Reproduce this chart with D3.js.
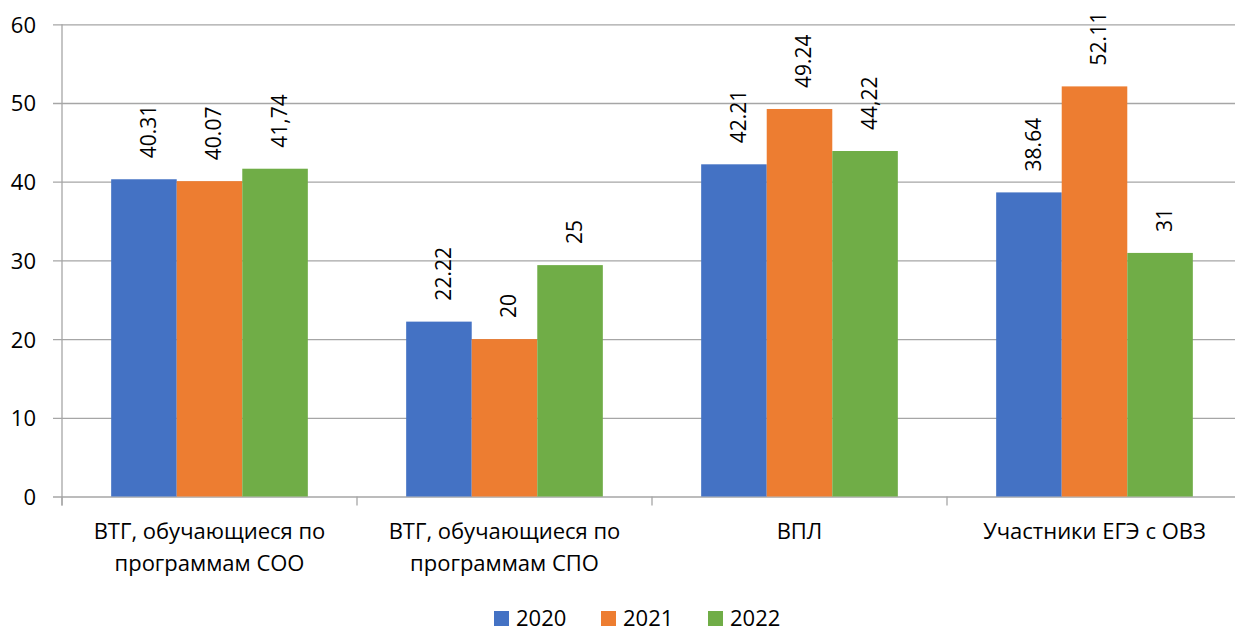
<!DOCTYPE html>
<html><head><meta charset="utf-8">
<script src="https://cdn.jsdelivr.net/npm/d3@7"></script>
<style>
html,body{margin:0;padding:0;background:#fff;}
svg{display:block;font-family:"Open Sans",sans-serif;}
</style></head>
<body>
<svg id="chart" width="1235" height="633"></svg>
<script>
const categories = [
  ["ВТГ, обучающиеся по", "программам СОО"],
  ["ВТГ, обучающиеся по", "программам СПО"],
  ["ВПЛ"],
  ["Участники ЕГЭ с ОВЗ"]
];
const seriesNames = ["2020", "2021", "2022"];
const values2020 = [40.31, 22.22, 42.21, 38.64];
const values2021 = [40.07, 20, 49.24, 52.11];
const values2022 = [41.65, 29.4, 43.9, 30.95];
const labels2020 = ["40.31", "22.22", "42.21", "38.64"];
const labels2021 = ["40.07", "20", "49.24", "52.11"];
const labels2022 = ["41,74", "25", "44,22", "31"];
const yTicks = [0, 10, 20, 30, 40, 50, 60];
const colors = ["#4472C4", "#ED7D31", "#70AD47"];

const series = [values2020, values2021, values2022];
const seriesLabels = [labels2020, labels2021, labels2022];

const svg = d3.select("#chart");
const mLeft = 62, mRight = 1242, mTop = 24.3, mBottom = 496.5;

const x0 = d3.scaleBand().domain(d3.range(categories.length)).range([mLeft, mRight]).paddingInner(0).paddingOuter(0);
const bw = x0.bandwidth() / 4.5;
const x1 = d3.scaleBand().domain(d3.range(series.length)).range([x0.bandwidth()/2 - 1.5*bw, x0.bandwidth()/2 + 1.5*bw]);
const y = d3.scaleLinear().domain([0, 60]).range([mBottom, mTop]);

const gridColor = "#A6A6A6";

// gridlines + y ticks
const yAxis = d3.axisLeft(y).tickValues(yTicks).tickSize(-(1235 - mLeft)).tickSizeOuter(0).tickPadding(10);
const gy = svg.append("g").attr("transform", `translate(${mLeft},0)`).call(yAxis);
gy.select(".domain").remove();
gy.selectAll(".tick line").attr("stroke", gridColor).attr("stroke-width", 1.3).attr("x1", -9);
gy.selectAll(".tick text").attr("font-size", 22).attr("fill", "#000").attr("font-family", "Open Sans").attr("dy", "0.36em").attr("x", -26);

// y axis line
svg.append("line").attr("x1", mLeft).attr("x2", mLeft).attr("y1", mTop).attr("y2", mBottom + 9)
  .attr("stroke", gridColor).attr("stroke-width", 1.3);

// category ticks
svg.append("g").selectAll("line").data(d3.range(categories.length + 1)).join("line")
  .attr("x1", d => mLeft + d * x0.bandwidth()).attr("x2", d => mLeft + d * x0.bandwidth())
  .attr("y1", mBottom).attr("y2", mBottom + 9)
  .attr("stroke", gridColor).attr("stroke-width", 1.3);

// bars
const groups = svg.append("g").selectAll("g").data(categories).join("g")
  .attr("transform", (d, i) => `translate(${x0(i)},0)`);

series.forEach((vals, si) => {
  groups.append("rect")
    .attr("x", x1(si)).attr("width", x1.bandwidth())
    .attr("y", (d, i) => y(vals[i])).attr("height", (d, i) => y(0) - y(vals[i]))
    .attr("fill", colors[si]);
  groups.append("text")
    .attr("transform", (d, i) => `translate(${x1(si) + x1.bandwidth()/2 + 4},${y(vals[i]) - 21}) rotate(-90)`)
    .attr("dy", "0.36em")
    .attr("font-size", 21).attr("fill", "#000")
    .text((d, i) => seriesLabels[si][i]);
});

// category labels
const cl = svg.append("g").selectAll("text").data(categories).join("text")
  .attr("x", (d, i) => x0(i) + x0.bandwidth()/2)
  .attr("y", 539)
  .attr("text-anchor", "middle").attr("font-size", 22).attr("fill", "#000");
cl.selectAll("tspan").data(d => d).join("tspan")
  .attr("x", function() { return d3.select(this.parentNode).attr("x"); })
  .attr("dy", (d, i) => i === 0 ? 0 : 32)
  .text(d => d);

// legend
const legend = svg.append("g").selectAll("g").data(seriesNames).join("g")
  .attr("transform", (d, i) => `translate(${494 + i * 107},0)`);
legend.append("rect").attr("x", 0).attr("y", 611).attr("width", 15).attr("height", 15)
  .attr("fill", (d, i) => colors[i]);
legend.append("text").attr("x", 22).attr("y", 626).attr("font-size", 22).attr("fill", "#000").text(d => d);
</script>
</body></html>
